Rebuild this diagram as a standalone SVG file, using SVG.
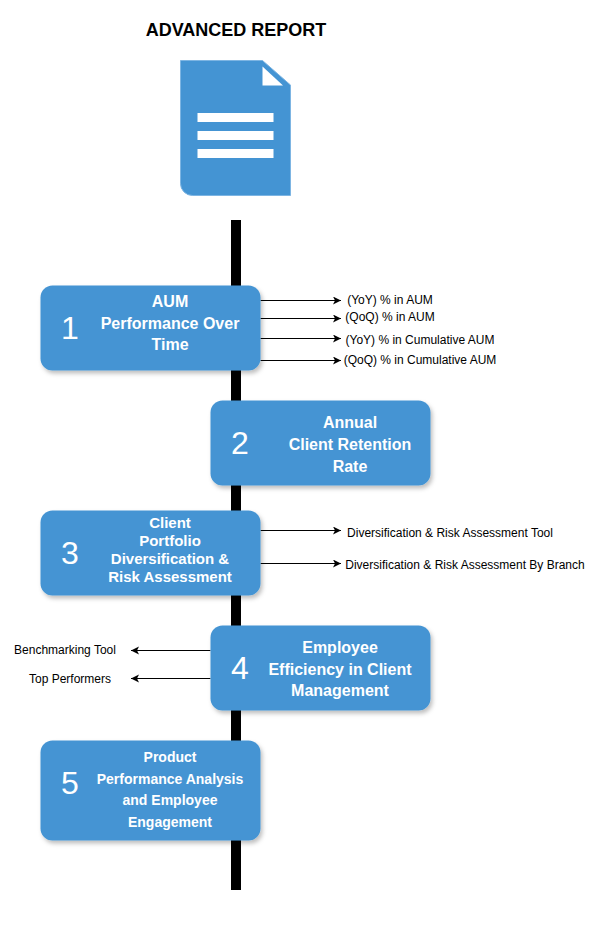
<svg xmlns="http://www.w3.org/2000/svg" width="590" height="936" viewBox="0 0 590 936">
<style>
text{font-family:"Liberation Sans",Arial,sans-serif}
.box{fill:#4494d3;filter:url(#sh)}
.num{fill:#fff;font-size:32px;text-anchor:middle}
.lbl{fill:#fff;font-size:16px;font-weight:bold;text-anchor:middle}
.lbl2{fill:#fff;font-size:14px;font-weight:bold;text-anchor:middle}
.lbl3{fill:#fff;font-size:15px;font-weight:bold;text-anchor:middle}
.t{fill:#000;font-size:12px;text-anchor:middle}
.c{stroke:#000;stroke-width:1;fill:none;marker-end:url(#a)}
</style>
<defs>
<filter id="sh" x="-10%" y="-15%" width="125%" height="135%"><feDropShadow dx="2" dy="3" stdDeviation="2" flood-color="#000" flood-opacity=".25"/></filter>
<marker id="a" markerUnits="userSpaceOnUse" markerWidth="9" markerHeight="9" refX="8" refY="4" orient="auto"><path d="M0 0L8 4L0 8L2 4Z" fill="#000"/></marker>
</defs>
<g id="title"><text x="236" y="36" font-weight="bold" text-anchor="middle" style="font-size:18px">ADVANCED REPORT</text></g>
<g id="document">
<path d="M180.5 60.5H262.5L290.5 85V195.5H192.5A12 12 0 0 1 180.5 183.5Z" fill="#4494d3" stroke="#7db5e3"/>
<path d="M262.5 66.5V85.5H283Z" fill="#fff"/>
<rect x="197.5" y="113" width="76" height="9" fill="#fff"/>
<rect x="197.5" y="131" width="76" height="9" fill="#fff"/>
<rect x="197.5" y="149" width="76" height="9" fill="#fff"/>
</g>
<g id="connectors">
<rect id="spine" x="231" y="220" width="10" height="670" fill="#000"/>
<path class="c" d="M260.5 300.5H341"/>
<path class="c" d="M260.5 318.5H341"/>
<path class="c" d="M260.5 338.5H341"/>
<path class="c" d="M260.5 360.5H341"/>
<path class="c" d="M260.5 530.5H341"/>
<path class="c" d="M260.5 563.5H341"/>
<path class="c" d="M210.5 650.5H131"/>
<path class="c" d="M210.5 678.5H131"/>
</g>
<g id="node1"><rect class="box" x="40.5" y="285.5" width="220" height="85" rx="12"/>
<text class="num" x="70" y="339">1</text>
<text class="lbl" x="170" y="307">AUM</text><text class="lbl" x="170" y="329">Performance Over</text><text class="lbl" x="170" y="350">Time</text></g>
<g id="node2"><rect class="box" x="210.5" y="400.5" width="220" height="85" rx="12"/>
<text class="num" x="240" y="454">2</text>
<text class="lbl" x="350" y="428">Annual</text><text class="lbl" x="350" y="450">Client Retention</text><text class="lbl" x="350" y="472">Rate</text></g>
<g id="node3"><rect class="box" x="40.5" y="510.5" width="220" height="85" rx="12"/>
<text class="num" x="70" y="564">3</text>
<text class="lbl3" x="170" y="528">Client</text><text class="lbl3" x="170" y="546">Portfolio</text><text class="lbl3" x="170" y="564">Diversification &amp;</text><text class="lbl3" x="170" y="582">Risk Assessment</text></g>
<g id="node4"><rect class="box" x="210.5" y="625.5" width="220" height="85" rx="12"/>
<text class="num" x="240" y="679">4</text>
<text class="lbl" x="340" y="653">Employee</text><text class="lbl" x="340" y="675">Efficiency in Client</text><text class="lbl" x="340" y="696">Management</text></g>
<g id="node5"><rect class="box" x="40.5" y="740.5" width="220" height="100" rx="12"/>
<text class="num" x="70" y="794">5</text>
<text class="lbl2" x="170" y="762">Product</text><text class="lbl2" x="170" y="784">Performance Analysis</text><text class="lbl2" x="170" y="805">and Employee</text><text class="lbl2" x="170" y="827">Engagement</text></g>
<g id="labels">
<text class="t" x="390" y="304">(YoY) % in AUM</text>
<text class="t" x="390" y="321">(QoQ) % in AUM</text>
<text class="t" x="420" y="344">(YoY) % in Cumulative AUM</text>
<text class="t" x="420" y="364">(QoQ) % in Cumulative AUM</text>
<text class="t" x="450" y="537">Diversification &amp; Risk Assessment Tool</text>
<text class="t" x="465" y="569">Diversification &amp; Risk Assessment By Branch</text>
<text class="t" x="65" y="654">Benchmarking Tool</text>
<text class="t" x="70" y="683">Top Performers</text>
</g>
</svg>
